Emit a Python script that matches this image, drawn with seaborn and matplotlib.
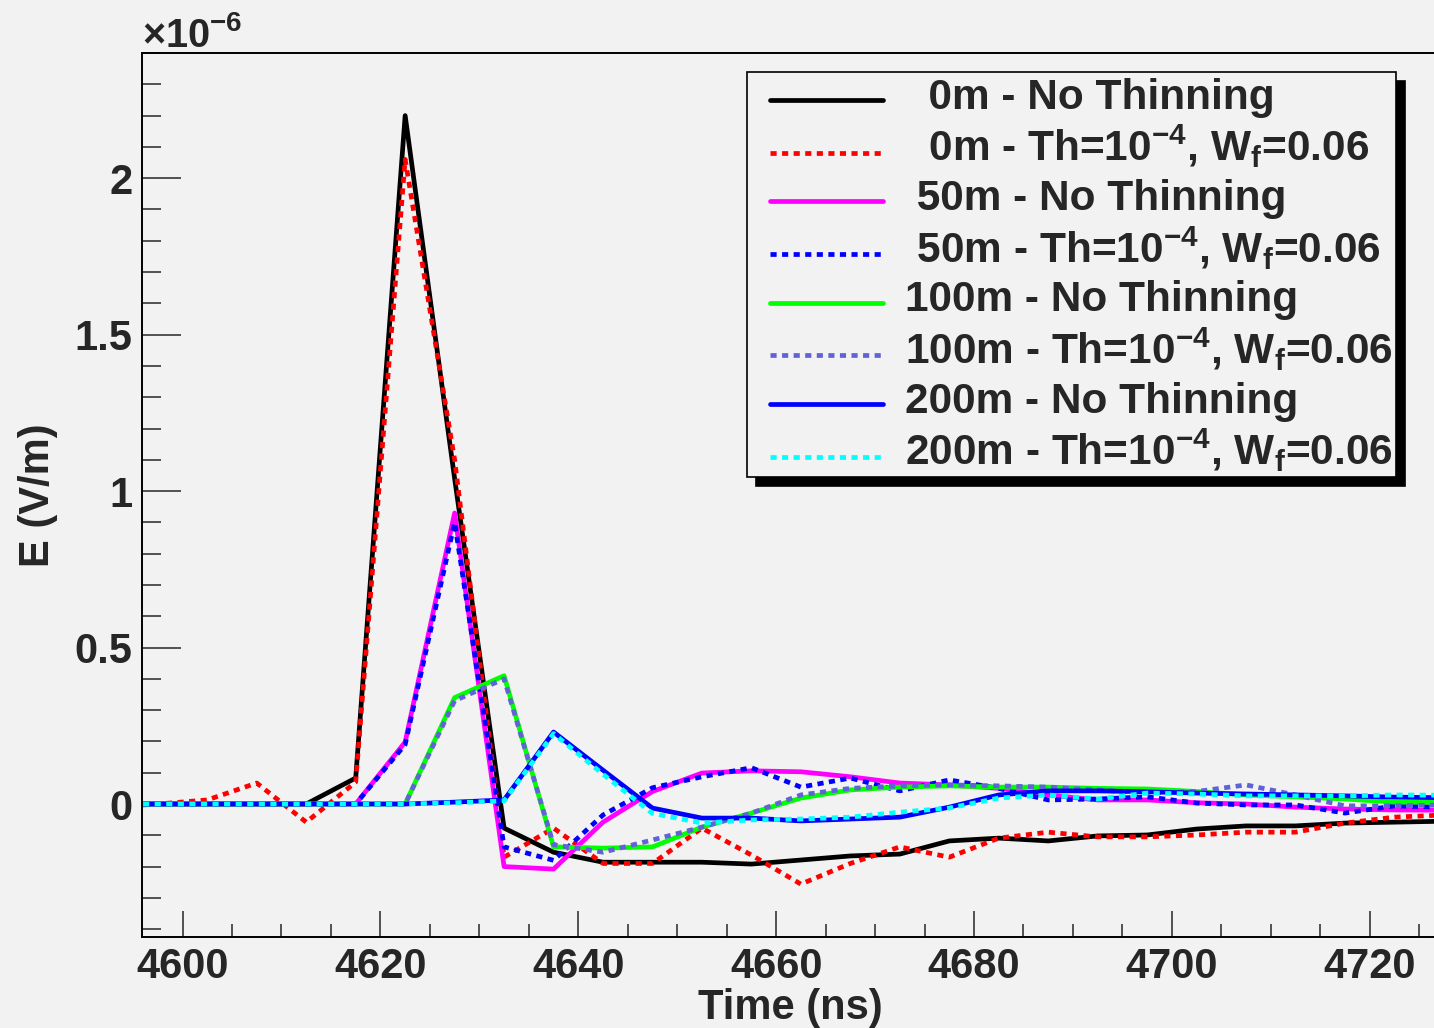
import matplotlib
matplotlib.use("Agg")
import numpy as np
import matplotlib.pyplot as plt
import matplotlib.ticker as mticker
from matplotlib.lines import Line2D
from matplotlib.legend_handler import HandlerLine2D
import seaborn as sns

# Sample times (ns), 5 ns binning
time_ns = [4592.5, 4597.5, 4602.5, 4607.5, 4612.5, 4617.5, 4622.5, 4627.5,
           4632.5, 4637.5, 4642.5, 4647.5, 4652.5, 4657.5, 4662.5, 4667.5,
           4672.5, 4677.5, 4682.5, 4687.5, 4692.5, 4697.5, 4702.5, 4707.5,
           4712.5, 4717.5, 4722.5, 4727.5]

# Electric field, in units of 1e-6 V/m
e_0m_full = [0, 0, 0, 0, 0, 0.083, 2.20, 1.04, -0.077, -0.154, -0.186, -0.186,
             -0.186, -0.192, -0.179, -0.166, -0.160, -0.118, -0.109, -0.118,
             -0.102, -0.099, -0.080, -0.070, -0.070, -0.061, -0.058, -0.055]
e_0m_thin = [-0.01, 0, 0.013, 0.067, -0.058, 0.07, 2.06, 1.10, -0.17, -0.077,
             -0.19, -0.19, -0.077, -0.163, -0.256, -0.19, -0.137, -0.17,
             -0.109, -0.09, -0.105, -0.105, -0.099, -0.09, -0.09, -0.061,
             -0.042, -0.035]
e_50m_full = [0, 0, 0, 0, 0, 0, 0.198, 0.93, -0.20, -0.208, -0.058, 0.04,
              0.099, 0.106, 0.103, 0.087, 0.067, 0.061, 0.05, 0.029, 0.013,
              0.013, 0.004, 0.0, -0.01, -0.016, -0.019, -0.02]
e_50m_thin = [0, 0, 0, 0, 0, 0, 0.19, 0.90, -0.137, -0.18, -0.035, 0.052,
              0.087, 0.116, 0.054, 0.083, 0.042, 0.077, 0.05, 0.013, 0.016,
              0.023, 0.003, -0.003, -0.003, -0.029, -0.006, -0.01]
e_100m_full = [0, 0, 0, 0, 0, 0, 0, 0.34, 0.41, -0.137, -0.141, -0.137,
               -0.074, -0.029, 0.019, 0.045, 0.054, 0.058, 0.054, 0.054, 0.05,
               0.048, 0.04, 0.029, 0.023, 0.016, 0.006, 0.005]
e_100m_thin = [0, 0, 0, 0, 0, 0, 0, 0.33, 0.40, -0.13, -0.154, -0.115, -0.074,
               -0.029, 0.029, 0.05, 0.058, 0.061, 0.058, 0.054, 0.045, 0.035,
               0.04, 0.061, 0.029, -0.006, -0.006, -0.003]
e_200m_full = [0, 0, 0, 0, 0, 0, 0, 0.006, 0.013, 0.23, 0.108, -0.013, -0.045,
               -0.045, -0.054, -0.048, -0.042, -0.01, 0.029, 0.042, 0.042,
               0.039, 0.035, 0.032, 0.029, 0.026, 0.022, 0.02]
e_200m_thin = [0, 0, 0, 0, 0, 0, 0, 0.004, 0.01, 0.225, 0.095, -0.03, -0.061,
               -0.051, -0.048, -0.042, -0.026, -0.013, 0.019, 0.029, 0.016,
               0.035, 0.032, 0.026, 0.026, 0.026, 0.029, 0.028]

labels = [
    "  0m - No Thinning",
    "  0m - Th=10$^{-4}$, W$_{f}$=0.06",
    " 50m - No Thinning",
    " 50m - Th=10$^{-4}$, W$_{f}$=0.06",
    "100m - No Thinning",
    "100m - Th=10$^{-4}$, W$_{f}$=0.06",
    "200m - No Thinning",
    "200m - Th=10$^{-4}$, W$_{f}$=0.06",
]
series = [e_0m_full, e_0m_thin, e_50m_full, e_50m_thin,
          e_100m_full, e_100m_thin, e_200m_full, e_200m_thin]
colors = ["#000000", "#ff0000", "#ff00ff", "#0000ff",
          "#00ff00", "#6262d8", "#0000ff", "#00ffff"]
dotted = (0, (1.3, 1.15))
styles = ["-", dotted, "-", dotted, "-", dotted, "-", dotted]


class LoweredLine(HandlerLine2D):
    """Legend line handler that sits the sample line a bit lower."""

    def __init__(self, drop=0.0, **kw):
        super().__init__(**kw)
        self.drop = drop

    def create_artists(self, legend, orig_handle, xdescent, ydescent,
                       width, height, fontsize, trans):
        arts = super().create_artists(legend, orig_handle, xdescent, ydescent,
                                      width, height, fontsize, trans)
        for a in arts:
            a.set_ydata(np.asarray(a.get_ydata()) - self.drop * fontsize)
        return arts


BG = "#f2f2f2"
sns.set_theme(style="ticks")
plt.rcParams.update({
    "font.family": ["Liberation Sans", "DejaVu Sans"],
    "font.weight": "bold",
    "axes.labelweight": "bold",
    "mathtext.fontset": "custom",
    "mathtext.rm": "Liberation Sans",
    "mathtext.bf": "Liberation Sans:bold",
    "mathtext.default": "regular",
    "axes.unicode_minus": True,
})

W, H = 1434, 1028
fig = plt.figure(figsize=(W / 100, H / 100), dpi=100, facecolor=BG)
ax = fig.add_axes([142 / W, 1 - 937 / H, (1438 - 142) / W, (937 - 53) / H])
ax.set_facecolor(BG)

for vals, col, ls, lab in zip(series, colors, styles, labels):
    sns.lineplot(x=time_ns, y=vals, ax=ax, color=col, linestyle=ls,
                 linewidth=3.4, label=lab, estimator=None, sort=False)

ax.set_xlim(4595.9, 4726.9)
ax.set_ylim(-0.425, 2.4)

ax.xaxis.set_major_locator(mticker.MultipleLocator(20))
ax.xaxis.set_minor_locator(mticker.MultipleLocator(5))
ax.yaxis.set_major_locator(mticker.MultipleLocator(0.5))
ax.yaxis.set_minor_locator(mticker.MultipleLocator(0.1))
ax.yaxis.set_major_formatter(mticker.FuncFormatter(lambda v, p: f"{v:g}"))

ax.tick_params(axis="x", which="major", direction="in", length=18.7,
               width=1.1, labelsize=30, pad=7.5, top=False, bottom=True)
ax.tick_params(axis="x", which="minor", direction="in", length=9.4,
               width=1.1, top=False, bottom=True)
ax.tick_params(axis="y", which="major", direction="in", length=28,
               width=1.1, labelsize=30, pad=7, right=False, left=True)
ax.tick_params(axis="y", which="minor", direction="in", length=13.7,
               width=1.1, right=False, left=True)
for lab in ax.get_xticklabels() + ax.get_yticklabels():
    lab.set_fontweight("bold")

for side in ["left", "bottom", "top", "right"]:
    ax.spines[side].set_linewidth(1.4)
    ax.spines[side].set_color("black")

ax.set_xlabel("Time (ns)", fontsize=30, fontweight="bold", labelpad=0.5)
ax.set_ylabel("E (V/m)", fontsize=30, fontweight="bold", labelpad=12)

# Exponent marker for the y scale
fig.text(142 / W, 1 - 47 / H, r"$\mathrm{\times}$10$^{-6}$", fontsize=28.5,
         fontweight="bold", ha="left", va="baseline")

handles, labs = ax.get_legend_handles_labels()
leg = ax.legend(handles, labs, loc="upper left",
                bbox_to_anchor=(747 / W, 1 - 72 / H),
                bbox_transform=fig.transFigure, borderaxespad=0,
                fontsize=30.5, handlelength=3.14, handletextpad=0.54,
                handleheight=1.05, borderpad=0.06, labelspacing=0.13,
                frameon=True, fancybox=False, edgecolor="black",
                facecolor=BG, framealpha=1,
                shadow={"ox": 6.5, "oy": -6.5, "color": "black", "alpha": 1},
                handler_map={Line2D: LoweredLine(drop=0.2, xpad=0.48)})
leg.get_frame().set_linewidth(1.2)
for t in leg.get_texts():
    t.set_fontweight("bold")

fig.savefig("out.png", dpi=100, facecolor=BG)
